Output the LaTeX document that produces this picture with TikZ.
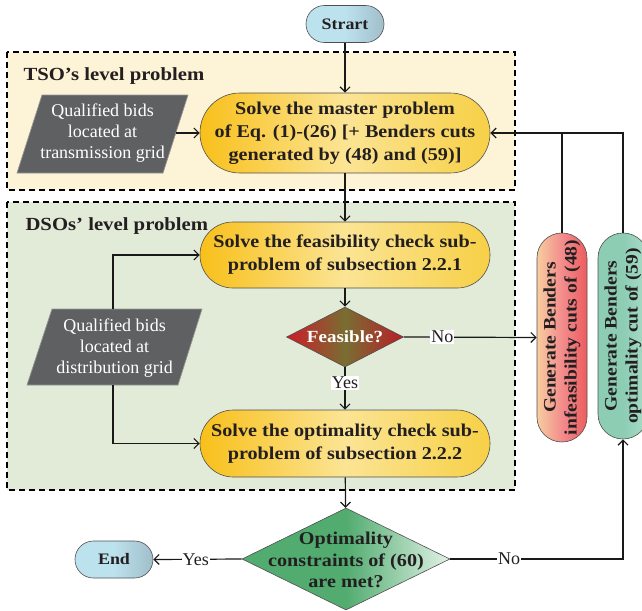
\documentclass[tikz,border=0pt]{standalone}
\usepackage{fontspec}
\setmainfont{Liberation Serif}
\newfontfamily\bff{Liberation Serif}[FakeStretch=1.12]
\usetikzlibrary{shapes.geometric,arrows.meta,calc}

\definecolor{tsofill}{RGB}{253,243,214}
\definecolor{dsofill}{RGB}{226,235,216}
\definecolor{orL}{RGB}{248,192,26}
\definecolor{orM}{RGB}{251,228,148}
\definecolor{orR}{RGB}{247,208,70}
\definecolor{sblue}{RGB}{188,226,238}
\definecolor{sblueR}{RGB}{160,190,202}
\definecolor{paragray}{RGB}{95,96,98}
\definecolor{paraedge}{RGB}{150,150,150}
\definecolor{redL}{RGB}{205,28,40}
\definecolor{redM}{RGB}{120,110,50}
\definecolor{redR}{RGB}{185,30,40}
\definecolor{dgreen}{RGB}{82,172,112}
\definecolor{dgreenR}{RGB}{225,242,230}
\definecolor{pillred}{RGB}{237,92,95}
\definecolor{pillmid}{RGB}{242,140,140}
\definecolor{pillpale}{RGB}{247,205,160}
\definecolor{pillgreen}{RGB}{140,205,180}
\definecolor{pillgreenL}{RGB}{170,220,198}
\definecolor{txt}{RGB}{35,31,32}
\definecolor{edge}{RGB}{80,80,80}

\tikzset{
  bfont/.style={font=\bff\bfseries\fontsize{18}{23}\selectfont},
  pill/.style={draw=edge, line width=0.6pt, minimum width=290pt, inner sep=0pt,
    align=center, text=txt, bfont, left color=orL, right color=orR, middle color=orM},
  term/.style={draw=edge, line width=0.6pt, minimum width=78pt, minimum height=37pt,
    rounded corners=18.4pt, inner sep=0pt, text=txt,
    font=\bff\bfseries\fontsize{16}{18}\selectfont,
    left color=sblue, right color=sblueR, middle color=sblue},
  vpill/.style={draw=edge, line width=0.6pt, rotate=90, minimum height=50pt,
    rounded corners=24.9pt, inner sep=0pt, align=center, text=txt,
    font=\bff\bfseries\fontsize{17.5}{21}\selectfont},
  dashbox/.style={draw=black, line width=1.2pt, dash pattern=on 6pt off 4pt},
  para/.style={draw=paraedge, line width=0.7pt, fill=paragray},
  paratext/.style={text=white, align=center, font=\fontsize{18}{21}\selectfont},
  title/.style={anchor=base west, text=txt, font=\bff\bfseries\fontsize{18.5}{22}\selectfont},
  conn/.style={draw=black!90, line width=1.2pt},
  arr/.style={conn, -{Straight Barb[length=5pt,width=10pt]}},
  lbl/.style={fill=white, inner sep=1pt, text=txt, font=\fontsize{18}{20}\selectfont},
}

\begin{document}
\begin{tikzpicture}[x=1pt,y=-1pt]
\useasboundingbox (0,0) rectangle (642,610);

% level boxes
\draw[dashbox, fill=tsofill] (7,52) rectangle (515,190);
\draw[dashbox, fill=dsofill] (7,202) rectangle (515,490);
\node[title] (tsot) at (20,80) {TSO’s level problem};
\node[title] (dsot) at (22,230) {DSOs’ level problem};

% terminals
\node[term] (start) at (345,24) {Strart};
\node[term] (endn) at (114,559.5) {End};

% process pills
\node[pill, minimum height=80pt, rounded corners=39.8pt] (master) at (345,133)
  {Solve the master problem\\of Eq. (1)-(26) [+ Benders cuts\\generated by (48) and (59)]};
\node[pill, minimum height=66pt, rounded corners=32.8pt] (feas) at (345,255)
  {Solve the feasibility check sub-\\problem of subsection 2.2.1};
\node[pill, minimum height=67pt, rounded corners=33.3pt] (opt) at (345,443.5)
  {Solve the optimality check sub-\\problem of subsection 2.2.2};

% parallelograms
\draw[para] (17,173) -- (163,173) -- (188,95) -- (42,95) -- cycle;
\node[paratext] (p1) at (102.5,133.5) {Qualified bids\\located at\\transmission grid};
\coordinate (p1r) at (176,133);
\draw[para] (27,385) -- (178,385) -- (202,309) -- (52,309) -- cycle;
\node[paratext] (p2) at (114.5,348) {Qualified bids\\located at\\distribution grid};
\coordinate (p2top) at (113,309);
\coordinate (p2bot) at (113,385);

% decisions
\node[diamond, draw=edge, line width=0.6pt, minimum width=117pt, minimum height=60pt,
  inner sep=0pt, left color=redL, right color=redR, middle color=redM] (d1) at (345,337) {};
\node[text=white, font=\bff\bfseries\fontsize{17}{18}\selectfont] (d1t) at (d1) {Feasible?};
\node[diamond, draw=edge, line width=0.6pt, minimum width=208pt, minimum height=102pt,
  inner sep=0pt, left color=dgreen, right color=dgreenR, middle color=dgreen] (d2) at (346,559) {};
\node[align=center, text=txt, font=\bff\bfseries\fontsize{18}{21.5}\selectfont] (d2t) at (346,560)
  {Optimality\\constraints of (60)\\are met?};

% Benders cut generators
\node[vpill, minimum width=209pt, left color=pillpale, right color=pillred, middle color=pillmid]
  (gred) at (562,337.5) {Generate Benders\\infeasibility cuts of (48)};
\node[vpill, minimum width=206pt, left color=pillgreen, right color=pillgreenL, middle color=pillgreen]
  (ggreen) at (623,336) {Generate Benders\\optimality cut of (59)};

% connectors
\draw[arr] (start) -- (master);
\draw[arr] (p1r) -- (master.west);
\draw[arr] (master) -- (feas);
\draw[arr] (p2top) |- (feas.west);
\draw[arr] (p2bot) |- (opt.west);
\draw[arr] (feas) -- (d1);
\draw[arr] (d1.east) -- node[lbl, pos=0.29] {No} (gred.north);
\draw[arr] (d1) -- node[lbl, pos=0.37] {Yes} (opt);
\draw[arr] (opt) -- (d2);
\draw[arr] (d2.west) -- node[lbl, pos=0.52] {Yes} (endn.east);
\coordinate (gcorner) at ($(d2.east -| ggreen.west)$);
\draw[arr] (d2.east) -- node[lbl, pos=0.34] {No} (gcorner) -- (ggreen.west);
\draw[conn] (gred.east) -- (gred.east |- master.east);
\draw[arr] (ggreen.east) |- (master.east);
\end{tikzpicture}
\end{document}
